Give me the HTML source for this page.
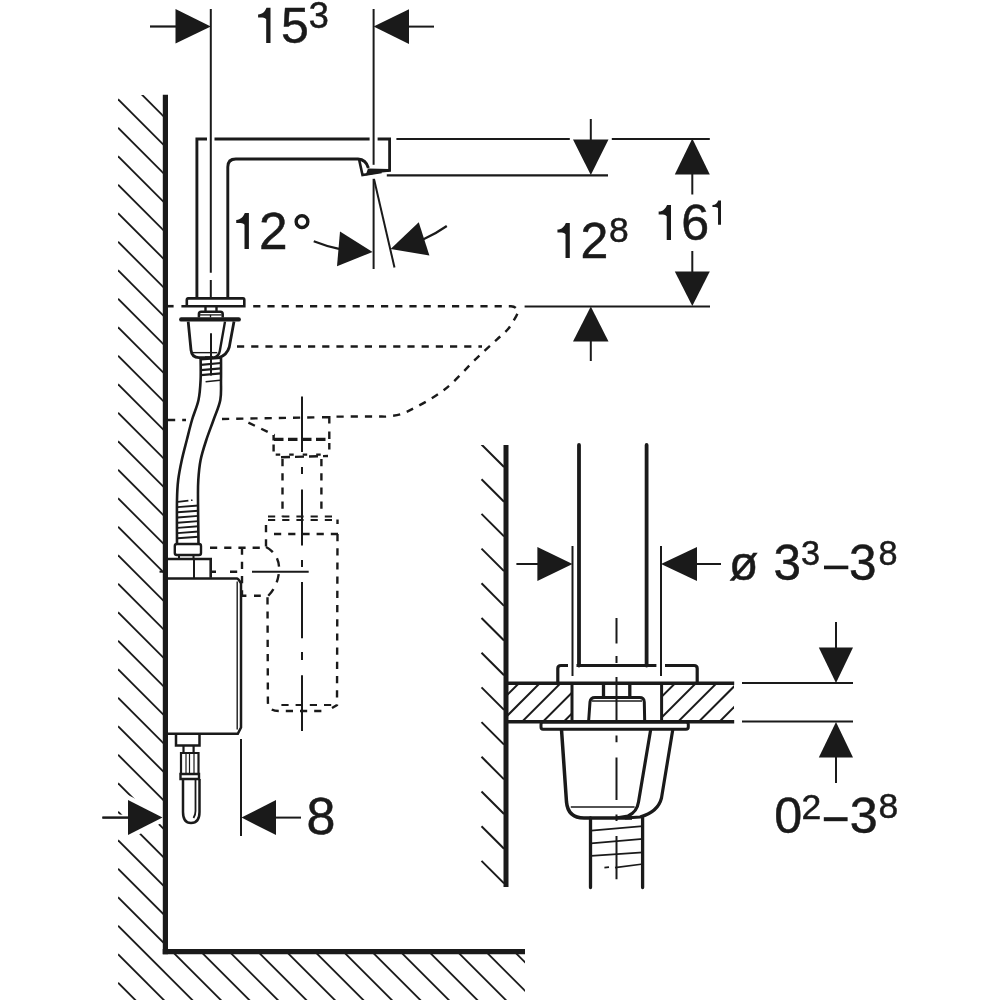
<!DOCTYPE html>
<html><head><meta charset="utf-8"><style>
html,body{margin:0;padding:0;background:#fff;width:1000px;height:1000px;overflow:hidden}
svg{display:block;will-change:transform}
text{font-family:"Liberation Sans",sans-serif;fill:#1a1a1a;stroke:#1a1a1a;stroke-width:0.5}
</style></head><body>
<svg width="1000" height="1000" viewBox="0 0 1000 1000" fill="none" stroke="#1a1a1a" stroke-linecap="butt" stroke-linejoin="miter">
<clipPath id="wallclip"><path d="M118 95 L163 95 L163 951 L525 951 L525 1000 L118 1000 Z"/></clipPath>
<g clip-path="url(#wallclip)" stroke-width="1.8">
<line x1="118" y1="13.700000000000003" x2="1118" y2="1013.7" stroke-width="1.8" />
<line x1="118" y1="42.2" x2="1118" y2="1042.2" stroke-width="1.8" />
<line x1="118" y1="70.7" x2="1118" y2="1070.7" stroke-width="1.8" />
<line x1="118" y1="99.2" x2="1118" y2="1099.2" stroke-width="1.8" />
<line x1="118" y1="127.7" x2="1118" y2="1127.7" stroke-width="1.8" />
<line x1="118" y1="156.2" x2="1118" y2="1156.2" stroke-width="1.8" />
<line x1="118" y1="184.7" x2="1118" y2="1184.7" stroke-width="1.8" />
<line x1="118" y1="213.2" x2="1118" y2="1213.2" stroke-width="1.8" />
<line x1="118" y1="241.7" x2="1118" y2="1241.7" stroke-width="1.8" />
<line x1="118" y1="270.2" x2="1118" y2="1270.2" stroke-width="1.8" />
<line x1="118" y1="298.7" x2="1118" y2="1298.7" stroke-width="1.8" />
<line x1="118" y1="327.2" x2="1118" y2="1327.2" stroke-width="1.8" />
<line x1="118" y1="355.7" x2="1118" y2="1355.7" stroke-width="1.8" />
<line x1="118" y1="384.2" x2="1118" y2="1384.2" stroke-width="1.8" />
<line x1="118" y1="412.7" x2="1118" y2="1412.7" stroke-width="1.8" />
<line x1="118" y1="441.2" x2="1118" y2="1441.2" stroke-width="1.8" />
<line x1="118" y1="469.7" x2="1118" y2="1469.7" stroke-width="1.8" />
<line x1="118" y1="498.2" x2="1118" y2="1498.2" stroke-width="1.8" />
<line x1="118" y1="526.7" x2="1118" y2="1526.7" stroke-width="1.8" />
<line x1="118" y1="555.2" x2="1118" y2="1555.2" stroke-width="1.8" />
<line x1="118" y1="583.7" x2="1118" y2="1583.7" stroke-width="1.8" />
<line x1="118" y1="612.2" x2="1118" y2="1612.2" stroke-width="1.8" />
<line x1="118" y1="640.7" x2="1118" y2="1640.7" stroke-width="1.8" />
<line x1="118" y1="669.2" x2="1118" y2="1669.2" stroke-width="1.8" />
<line x1="118" y1="697.7" x2="1118" y2="1697.7" stroke-width="1.8" />
<line x1="118" y1="726.2" x2="1118" y2="1726.2" stroke-width="1.8" />
<line x1="118" y1="754.7" x2="1118" y2="1754.7" stroke-width="1.8" />
<line x1="118" y1="783.2" x2="1118" y2="1783.2" stroke-width="1.8" />
<line x1="118" y1="811.7" x2="1118" y2="1811.7" stroke-width="1.8" />
<line x1="118" y1="840.2" x2="1118" y2="1840.2" stroke-width="1.8" />
<line x1="118" y1="868.7" x2="1118" y2="1868.7" stroke-width="1.8" />
<line x1="118" y1="897.2" x2="1118" y2="1897.2" stroke-width="1.8" />
<line x1="118" y1="925.7" x2="1118" y2="1925.7" stroke-width="1.8" />
<line x1="118" y1="954.2" x2="1118" y2="1954.2" stroke-width="1.8" />
<line x1="118" y1="982.7" x2="1118" y2="1982.7" stroke-width="1.8" />
<line x1="118" y1="1011.2" x2="1118" y2="2011.2" stroke-width="1.8" />
<line x1="118" y1="1039.7" x2="1118" y2="2039.7" stroke-width="1.8" />
<line x1="118" y1="1068.2" x2="1118" y2="2068.2" stroke-width="1.8" />
<line x1="118" y1="1096.7" x2="1118" y2="2096.7" stroke-width="1.8" />
<line x1="118" y1="1125.2" x2="1118" y2="2125.2" stroke-width="1.8" />
<line x1="118" y1="1153.7" x2="1118" y2="2153.7" stroke-width="1.8" />
<line x1="118" y1="1182.2" x2="1118" y2="2182.2" stroke-width="1.8" />
</g>
<polygon points="128,800 128,835 162.5,817.6" fill="#fff" stroke="#fff" stroke-width="9"/>
<line x1="118" y1="817.6" x2="129" y2="817.6" stroke-width="6" stroke="#fff"/>
<line x1="165.4" y1="94.8" x2="165.4" y2="954.2" stroke-width="5.2" />
<line x1="162.7" y1="951.7" x2="525" y2="951.7" stroke-width="5.2" />
<line x1="210.8" y1="9" x2="210.8" y2="272.8" stroke-width="2" />
<line x1="210.8" y1="280" x2="210.8" y2="299" stroke-width="2" />
<line x1="150" y1="26.5" x2="177" y2="26.5" stroke-width="2.2" />
<polygon points="175.5,9 175.5,43.6 210.8,26.5" fill="#1a1a1a" stroke="none"/>
<line x1="373.6" y1="9" x2="373.6" y2="164.8" stroke-width="2" />
<line x1="373.6" y1="178.8" x2="373.6" y2="269" stroke-width="2" />
<polygon points="409,9.3 409,44 373.6,26.6" fill="#1a1a1a" stroke="none"/>
<line x1="408" y1="26.6" x2="434" y2="26.6" stroke-width="2" />
<path d="M270.50 7.75 L270.50 43.00 L266.20 43.00 L266.20 19.25 C264.20 17.05 261.20 17.50 258.10 17.50 L258.10 14.50 C262.50 14.35 265.20 11.25 266.50 7.75 Z" fill="#1a1a1a" stroke="none"/>
<text x="280.90" y="43.15" font-size="50.07">5</text>
<text x="308.85" y="28.44" font-size="36.13">3</text>
<path d="M207 139 L196.9 139 L196.9 299" stroke-width="2.9" />
<path d="M214.5 139 L369.6 139" stroke-width="2.8" />
<path d="M377.6 139 L389.6 139 L389.6 170.4 L372 170.4" stroke-width="2.8" />
<path d="M227.8 299 L227.8 167 Q227.8 159 235.8 159 L358 159 Q366 159.5 368.4 168" stroke-width="2.9" />
<path d="M359 159 L362.5 175 L381.6 172" stroke-width="2.6" />
<polygon points="368,168.6 389.6,168.9 389.6,171.8 382,172.4 365.5,175.6" fill="#1a1a1a" stroke="none"/>
<line x1="396.4" y1="139" x2="569.8" y2="139" stroke-width="2.2" />
<line x1="611.8" y1="139" x2="709.8" y2="139" stroke-width="2.2" />
<line x1="386.8" y1="175.3" x2="608" y2="175.3" stroke-width="2.2" />
<path d="M248.90 213.10 L248.90 249.10 L244.51 249.10 L244.51 224.84 C242.47 222.60 239.40 223.06 236.24 223.06 L236.24 219.99 C240.73 219.84 243.49 216.67 244.81 213.10 Z" fill="#1a1a1a" stroke="none"/>
<text x="258.95" y="249.10" font-size="51.34">2</text>
<circle cx="302" cy="221.65" r="5.85" stroke-width="3.4"/>
<path d="M313.75 241.25 A140.4 140.4 0 0 0 339 248.8" stroke-width="2.2" />
<polygon points="340,231.5 337,266.3 372.6,251.9" fill="#1a1a1a" stroke="none"/>
<line x1="374" y1="179" x2="394.5" y2="267.5" stroke-width="2" />
<polygon points="390.6,248.9 418.75,222.3 429.4,255.6" fill="#1a1a1a" stroke="none"/>
<path d="M423 239.5 A140.4 140.4 0 0 0 446.8 226" stroke-width="2.2" />
<line x1="590.8" y1="119" x2="590.8" y2="140" stroke-width="2" />
<polygon points="573,139.5 608.5,139.5 590.8,175" fill="#1a1a1a" stroke="none"/>
<polygon points="573,341.5 608.5,341.5 590.8,306.5" fill="#1a1a1a" stroke="none"/>
<line x1="590.8" y1="341" x2="590.8" y2="361" stroke-width="2" />
<path d="M569.80 222.90 L569.80 258.00 L565.52 258.00 L565.52 234.35 C563.53 232.16 560.54 232.61 557.45 232.61 L557.45 229.62 C561.83 229.47 564.52 226.39 565.82 222.90 Z" fill="#1a1a1a" stroke="none"/>
<text x="580.40" y="258.00" font-size="50.00">2</text>
<text x="608.88" y="242.35" font-size="35.49">8</text>
<polygon points="674.8,174.5 709.8,174.5 692.3,138.5" fill="#1a1a1a" stroke="none"/>
<line x1="692.3" y1="174" x2="692.3" y2="194.5" stroke-width="2" />
<path d="M671.00 204.90 L671.00 240.00 L666.72 240.00 L666.72 216.35 C664.73 214.16 661.74 214.61 658.65 214.61 L658.65 211.62 C663.03 211.47 665.72 208.39 667.02 204.90 Z" fill="#1a1a1a" stroke="none"/>
<text x="681.19" y="240.00" font-size="50.14">6</text>
<path d="M721.00 200.40 L721.00 224.70 L718.04 224.70 L718.04 208.33 C716.66 206.81 714.59 207.12 712.45 207.12 L712.45 205.05 C715.49 204.95 717.35 202.81 718.24 200.40 Z" fill="#1a1a1a" stroke="none"/>
<line x1="692.3" y1="251" x2="692.3" y2="272" stroke-width="2" />
<polygon points="674.8,271.5 709.8,271.5 692.3,306" fill="#1a1a1a" stroke="none"/>
<line x1="524.6" y1="306.5" x2="710" y2="306.5" stroke-width="2.2" />
<path d="M187.5 298.4 L243 298.4 Q244.3 298.4 244.3 300 L244.3 306.2 L181.4 306.2 M186.8 306.2 L186.8 300 Q186.8 298.4 188.5 298.4" stroke-width="2.6" />
<path d="M205.5 306 L205.5 311.7 M216.5 306 L216.5 311.7" stroke-width="2.4" />
<path d="M198.9 317.5 L198.9 314 Q198.9 311.7 201.2 311.7 L220.4 311.7 Q222.7 311.7 222.7 314 L222.7 317.5" stroke-width="2.5" />
<line x1="200" y1="314.9" x2="221.7" y2="314.9" stroke-width="1.3" />
<line x1="210.5" y1="314.9" x2="210.5" y2="317.5" stroke-width="1.3" />
<path d="M181.2 317.3 L238.7 317.3 Q240.9 317.3 240.9 319.4 Q240.9 321.6 238.7 321.6 L181.2 321.6 Q179.1 321.6 179.1 319.4 Q179.1 317.3 181.2 317.3 Z" stroke-width="0" fill="#1a1a1a"/>
<path d="M188.2 321.6 L191 350 Q191.8 357.6 199 357.6 L213 357.6" stroke-width="2.8" />
<path d="M234 321.6 L229.3 347 Q227 355 219 357.6 L205 357.6" stroke-width="2.8" />
<path d="M225 321.6 L219.8 351 Q219 356 214 357.6" stroke-width="2.4" />
<line x1="193" y1="352.65" x2="217.3" y2="352.65" stroke-width="1.4" />
<line x1="211" y1="333.3" x2="211" y2="375.6" stroke-width="2" />
<line x1="201" y1="359.3" x2="221" y2="357.8" stroke-width="2.2" />
<line x1="201" y1="364.8" x2="221" y2="363.0" stroke-width="2.2" />
<line x1="201" y1="370.2" x2="221" y2="368.4" stroke-width="2.2" />
<line x1="201" y1="375.2" x2="221" y2="373.4" stroke-width="2.2" />
<line x1="205.6" y1="381.8" x2="220" y2="380.3" stroke-width="1.6" />
<path d="M200.6 357 C200.60 360.83 200.95 372.83 200.6 380 C200.25 387.17 199.93 393.33 198.5 400 C197.07 406.67 193.95 413.33 192 420 C190.05 426.67 188.50 433.33 186.8 440 C185.10 446.67 183.23 453.33 181.8 460 C180.37 466.67 179.00 473.33 178.2 480 C177.40 486.67 177.20 489.33 177 500 C176.80 510.67 177.00 536.67 177 544" stroke-width="2.6" />
<path d="M221 357 C221.00 360.83 221.12 372.83 221 380 C220.88 387.17 221.55 393.33 220.3 400 C219.05 406.67 215.83 413.33 213.5 420 C211.17 426.67 208.45 433.33 206.3 440 C204.15 446.67 201.93 453.33 200.6 460 C199.27 466.67 198.73 473.33 198.3 480 C197.87 486.67 197.97 489.33 198 500 C198.03 510.67 198.42 536.67 198.5 544" stroke-width="2.6" />
<line x1="177.5" y1="507.1" x2="198.5" y2="505.5" stroke-width="1.9" />
<line x1="177.5" y1="512.3000000000001" x2="198.5" y2="510.7" stroke-width="1.9" />
<line x1="177.5" y1="517.5" x2="198.5" y2="515.9" stroke-width="1.9" />
<line x1="177.5" y1="522.7" x2="198.5" y2="521.1" stroke-width="1.9" />
<line x1="177.5" y1="527.9" x2="198.5" y2="526.3" stroke-width="1.9" />
<line x1="177.5" y1="533.1" x2="198.5" y2="531.5" stroke-width="1.9" />
<line x1="177.5" y1="538.3000000000001" x2="198.5" y2="536.7" stroke-width="1.9" />
<line x1="178" y1="501.9" x2="188.4" y2="500.6" stroke-width="1.6" />
<line x1="191" y1="500.3" x2="192.5" y2="500.2" stroke-width="1.6" />
<path d="M174.8 546 Q174.8 544 177 544 L199 544 Q201 544 201 546 L201 553 Q201 555 199 555 L177 555 Q174.8 555 174.8 553 Z" stroke-width="2.4" />
<path d="M179 555 L179 558.5 M193.5 555 L193.5 558.5" stroke-width="2" />
<path d="M165.7 559 L210.7 559 L210.7 577.7" stroke-width="2.6" />
<line x1="194" y1="559" x2="194" y2="578" stroke-width="2" />
<path d="M165 578.5 L237 578.5 Q238.5 578.7 241 583.5 L241 727.5 L237.8 733.8 L165 733.8" stroke-width="2.5" />
<path d="M237.2 581.5 L237.2 729.5" stroke-width="1.4" />
<path d="M176 734 L176 745.5 L199.5 745.5 L199.5 734" stroke-width="2.5" />
<path d="M183.5 745 L183.5 753 M193.6 745 L193.6 753" stroke-width="2.2" />
<path d="M181 753 L198.5 753 L198.5 774 L181 774 Z" stroke-width="2.2" />
<line x1="186" y1="753" x2="186" y2="774" stroke-width="1.2" />
<line x1="189.5" y1="753" x2="189.5" y2="774" stroke-width="1.2" />
<line x1="194" y1="753" x2="194" y2="774" stroke-width="1.2" />
<path d="M180.5 774 L199 774 L199 779 L180.5 779 Z" stroke-width="2.4" />
<path d="M183 779 L183 812 Q183 823 191 823 Q199.5 823 199.5 812 L199.5 779" stroke-width="2.5" />
<path d="M195.5 779 L195.5 811 Q195.5 815 193.5 818" stroke-width="1.8" />
<line x1="102.4" y1="817.6" x2="129" y2="817.6" stroke-width="2" />
<line x1="102.4" y1="817.6" x2="129" y2="817.6" stroke-width="2" />
<polygon points="128,800 128,835 162.5,817.6" fill="#1a1a1a" stroke="none"/>
<line x1="241" y1="739" x2="241" y2="836" stroke-width="2" />
<polygon points="276,800 276,835 241.5,817.6" fill="#1a1a1a" stroke="none"/>
<line x1="275" y1="817.6" x2="301" y2="817.6" stroke-width="2" />
<text x="306.52" y="834.18" font-size="51.97">8</text>
<line x1="168" y1="306.2" x2="173.6" y2="306.2" stroke-width="2.6" />
<path d="M253.2 306.2 L511 306.2 Q517.5 306.5 518 313 C516.42 315.58 512.03 324.07 508.5 328.5 C504.97 332.93 502.22 334.55 496.8 339.6 C491.38 344.65 484.80 350.40 476 358.8 C467.20 367.20 455.47 381.20 444 390 C432.53 398.80 416.20 407.23 407.2 411.6 C398.20 415.97 394.53 415.38 390 416.2 C385.47 417.02 381.67 416.45 380 416.5 L334 416.6" stroke-width="2.4" stroke-dasharray="7.2 7"/>
<path d="M237 346.5 L482 346.5" stroke-width="2.4" stroke-dasharray="7.2 7"/>
<path d="M168 420 L186 420" stroke-width="2.4" stroke-dasharray="7.2 7"/>
<path d="M222 419 L316 417.3" stroke-width="2.4" stroke-dasharray="7.2 7"/>
<path d="M322 417.2 L329.3 417.2 L329.3 423.6" stroke-width="2.4" />
<line x1="302" y1="396.5" x2="302" y2="452" stroke-width="2" />
<line x1="302" y1="467" x2="302" y2="474" stroke-width="2" />
<line x1="302" y1="489.5" x2="302" y2="545.5" stroke-width="2" />
<line x1="302" y1="560" x2="302" y2="567" stroke-width="2" />
<line x1="302" y1="582" x2="302" y2="638.3" stroke-width="2" />
<line x1="302" y1="652" x2="302" y2="660" stroke-width="2" />
<line x1="302" y1="675.2" x2="302" y2="731" stroke-width="2" />
<path d="M248.4 422.6 L274.7 435.2" stroke-width="2.4" stroke-dasharray="7.2 7"/>
<path d="M274 439.4 L330 439.4" stroke-width="3.4" stroke-dasharray="9.5 4.5"/>
<path d="M329.3 431.5 L329.3 438.9 M329.3 443 L329.3 449.4" stroke-width="2.4" />
<path d="M273.6 435 L273.6 452" stroke-width="2.4" stroke-dasharray="5.5 4 7 10"/>
<path d="M275.7 454.6 L329 454.6" stroke-width="2.4" stroke-dasharray="4.5 9"/>
<path d="M281 457.2 L328 456" stroke-width="2.4" stroke-dasharray="9 5"/>
<path d="M282.5 459 L282.5 516.5" stroke-width="2.4" stroke-dasharray="7.2 7"/>
<path d="M321.4 459 L321.4 510" stroke-width="2.4" stroke-dasharray="7.2 7"/>
<path d="M268 516.5 L338 516.5 M268 520 L338 520" stroke-width="2.2" stroke-dasharray="7.2 7"/>
<path d="M274 534 L338 534" stroke-width="2.4" stroke-dasharray="7.2 7"/>
<path d="M337.5 519.5 L337.5 524" stroke-width="2.4" />
<path d="M266 525 L266 546.5" stroke-width="2.4" stroke-dasharray="7.2 7"/>
<path d="M266 547 C276 552 280 562 279 572 C278 582 274 590 268 596" stroke-width="2.4" stroke-dasharray="8.5 7.5"/>
<path d="M267.5 597.2 L267.9 702 Q268 711 279 711 L325 711" stroke-width="2.4" stroke-dasharray="7.2 7"/>
<path d="M337.5 534 L337 705 L332 708" stroke-width="2.4" stroke-dasharray="7.2 7"/>
<path d="M281.4 705 L337 705" stroke-width="2.2" stroke-dasharray="7.2 7"/>
<path d="M210 547.7 L266 547.7" stroke-width="2.4" stroke-dasharray="7.2 7"/>
<path d="M242 547.6 L242 595.7" stroke-width="2.4" stroke-dasharray="7.2 7"/>
<path d="M211 571.7 L216 571.7 M230 571.7 L237.2 571.7" stroke-width="2.4" />
<line x1="252" y1="571.7" x2="308.7" y2="571.7" stroke-width="2" />
<line x1="159.5" y1="571.7" x2="163" y2="571.7" stroke-width="2" />
<path d="M242 595.7 L246.4 595.7 M254 595.7 L260.8 595.7" stroke-width="2.4" />
<clipPath id="inclip"><path d="M470 445 L504 445 L504 887 L470 887 Z"/></clipPath>
<g clip-path="url(#inclip)">
<line x1="481.5" y1="409.8" x2="504" y2="432.3" stroke-width="2" />
<line x1="481.5" y1="444.5" x2="504" y2="467.0" stroke-width="2" />
<line x1="481.5" y1="479.2" x2="504" y2="501.7" stroke-width="2" />
<line x1="481.5" y1="513.9" x2="504" y2="536.4" stroke-width="2" />
<line x1="481.5" y1="548.6" x2="504" y2="571.1" stroke-width="2" />
<line x1="481.5" y1="583.3" x2="504" y2="605.8" stroke-width="2" />
<line x1="481.5" y1="618.0" x2="504" y2="640.5" stroke-width="2" />
<line x1="481.5" y1="652.7" x2="504" y2="675.2" stroke-width="2" />
<line x1="481.5" y1="687.4000000000001" x2="504" y2="709.9000000000001" stroke-width="2" />
<line x1="481.5" y1="722.1" x2="504" y2="744.6" stroke-width="2" />
<line x1="481.5" y1="756.8" x2="504" y2="779.3" stroke-width="2" />
<line x1="481.5" y1="791.5" x2="504" y2="814.0" stroke-width="2" />
<line x1="481.5" y1="826.2" x2="504" y2="848.7" stroke-width="2" />
<line x1="481.5" y1="860.9000000000001" x2="504" y2="883.4000000000001" stroke-width="2" />
<line x1="481.5" y1="895.6" x2="504" y2="918.1" stroke-width="2" />
<line x1="481.5" y1="930.3000000000001" x2="504" y2="952.8000000000001" stroke-width="2" />
<line x1="481.5" y1="965.0" x2="504" y2="987.5" stroke-width="2" />
</g>
<line x1="506" y1="445" x2="506" y2="887" stroke-width="5" />
<path d="M579 445 L579 665.5 M646.6 445 L646.6 665.5" stroke-width="3.8" stroke-linecap="round"/>
<line x1="576.5" y1="665.5" x2="656.4" y2="665.5" stroke-width="3.2" />
<line x1="572.5" y1="546" x2="572.5" y2="676" stroke-width="2" />
<line x1="661" y1="546" x2="661" y2="676" stroke-width="2" />
<line x1="516.4" y1="564" x2="538" y2="564" stroke-width="2" />
<polygon points="537.4,547 537.4,581 572.5,564" fill="#1a1a1a" stroke="none"/>
<polygon points="697,547 697,581 661,564" fill="#1a1a1a" stroke="none"/>
<line x1="696" y1="564" x2="721" y2="564" stroke-width="2" />
<text x="729" y="580" font-size="48" >ø</text>
<text x="773.42" y="579.51" font-size="49.44">3</text>
<text x="801.03" y="565.26" font-size="34.23">3</text>
<rect x="824" y="565.6" width="24.3" height="3.6" fill="#1a1a1a" stroke="none"/>
<text x="849.02" y="579.51" font-size="49.44">3</text>
<text x="878.43" y="565.26" font-size="34.23">8</text>
<path d="M557.8 683 L557.8 668.5 Q557.8 665.5 561 665.5 L568 665.5" stroke-width="3.2" />
<path d="M665 665.5 L694 665.5 Q697.2 665.5 697.2 668.5 L697.2 683" stroke-width="3.2" />
<line x1="506" y1="683.2" x2="734.2" y2="683.2" stroke-width="3.6" />
<line x1="506" y1="721.8" x2="734.2" y2="721.8" stroke-width="3.4" />
<line x1="572" y1="683" x2="572" y2="721.5" stroke-width="3" />
<line x1="661.6" y1="683" x2="661.6" y2="721.5" stroke-width="3" />
<clipPath id="ctclip"><path d="M507 684 L571 684 L571 721 L507 721 Z M663 684 L734 684 L734 721 L663 721 Z"/></clipPath>
<g clip-path="url(#ctclip)">
<line x1="500" y1="702.2" x2="580" y2="622.2" stroke-width="2" />
<line x1="500" y1="723.0" x2="580" y2="643.0" stroke-width="2" />
<line x1="500" y1="743.8" x2="580" y2="663.8" stroke-width="2" />
<line x1="500" y1="764.6000000000001" x2="580" y2="684.6000000000001" stroke-width="2" />
<line x1="500" y1="785.4000000000001" x2="580" y2="705.4000000000001" stroke-width="2" />
<line x1="655" y1="703.4000000000001" x2="740" y2="618.4000000000001" stroke-width="2" />
<line x1="655" y1="724.1000000000001" x2="740" y2="639.1000000000001" stroke-width="2" />
<line x1="655" y1="744.8000000000002" x2="740" y2="659.8000000000002" stroke-width="2" />
<line x1="655" y1="765.5" x2="740" y2="680.5" stroke-width="2" />
<line x1="655" y1="786.2" x2="740" y2="701.2" stroke-width="2" />
</g>
<path d="M603.5 683 L603.5 697 M629.8 683 L629.8 697" stroke-width="3.3" />
<path d="M588.6 721.5 L590 702 Q590.5 697.5 595 697.5 L639.5 697.5 Q644 697.5 644.3 702 L644.7 721.5" stroke-width="3" />
<line x1="592" y1="701" x2="642" y2="701" stroke-width="1.3" />
<path d="M543 722 L686 722 Q688.3 722 688.3 724.5 L688.3 727 Q688.3 729.3 686 729.3 L543 729.3 Q541 729.3 541 727 L541 724.5 Q541 722 543 722 Z" stroke-width="3" />
<path d="M561.5 729.5 L566.5 802 Q568 818 584 818 L632 818" stroke-width="3.5" />
<path d="M672.8 729.5 L661.5 798 Q658 812 640 817 L625 818" stroke-width="3.2" />
<path d="M650.7 729.5 L638.5 802 Q637 812 628 816 L616 818" stroke-width="3.2" />
<line x1="570.8" y1="806.9" x2="634.6" y2="806.9" stroke-width="1.5" />
<path d="M590.5 818 L590.5 887.5 M642.6 818 L642.6 887.5" stroke-width="3.3" stroke-linecap="round"/>
<line x1="591" y1="830.7" x2="643" y2="826.2" stroke-width="1.7" />
<line x1="591" y1="843.3" x2="643" y2="838.8" stroke-width="1.7" />
<line x1="591" y1="855.9" x2="643" y2="852.3" stroke-width="1.7" />
<line x1="615" y1="867.6" x2="643" y2="864" stroke-width="1.7" />
<line x1="604.4" y1="867.6" x2="609" y2="867.2" stroke-width="1.7" />
<path d="M616.5 618 L616.5 643.5 M616.5 656 L616.5 663 M616.5 677 L616.5 721 M616.5 735.5 L616.5 742.3 M616.5 757.6 L616.5 800 M616.5 814.5 L616.5 821 M616.5 836 L616.5 879.3" stroke-width="2" />
<line x1="742" y1="683" x2="853" y2="683" stroke-width="2.2" />
<line x1="742" y1="721.5" x2="853" y2="721.5" stroke-width="2.2" />
<line x1="836" y1="622" x2="836" y2="648" stroke-width="2" />
<polygon points="818.8,647.6 853,647.6 836,683" fill="#1a1a1a" stroke="none"/>
<polygon points="818.8,757.6 853,757.6 836,722" fill="#1a1a1a" stroke="none"/>
<line x1="836" y1="757" x2="836" y2="783" stroke-width="2" />
<text x="774.19" y="832.80" font-size="50.28">0</text>
<text x="801.38" y="818.60" font-size="35.49">2</text>
<rect x="823.8" y="817.2" width="23.8" height="4" fill="#1a1a1a" stroke="none"/>
<text x="849.79" y="832.80" font-size="50.28">3</text>
<text x="878.38" y="818.25" font-size="35.49">8</text>
</svg></body></html>
